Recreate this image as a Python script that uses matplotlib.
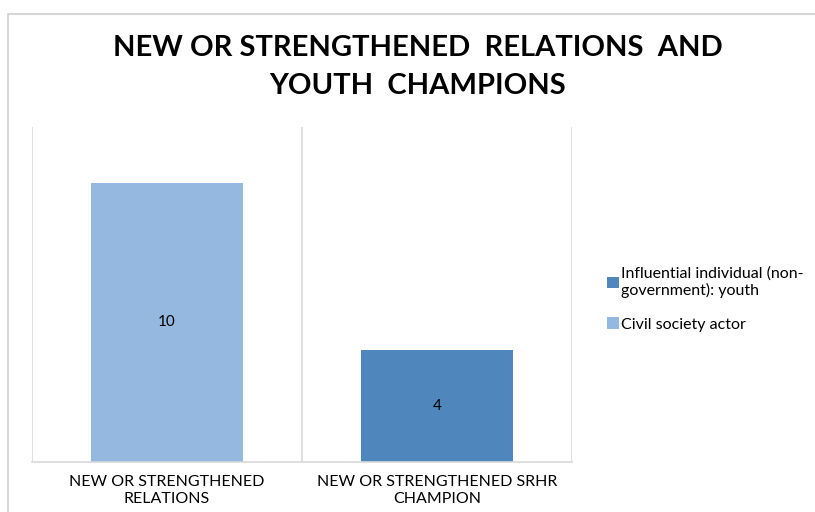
import matplotlib
matplotlib.use("Agg")
import matplotlib.pyplot as plt
from matplotlib.patches import Rectangle
import numpy as np

plt.rcParams["font.family"] = ["Lato", "DejaVu Sans"]

# chart data
categories = ["NEW OR STRENGTHENED\nRELATIONS", "NEW OR STRENGTHENED SRHR\nCHAMPION"]
civil_society = [10, 0]
influential_youth = [0, 4]
series_names = ["Civil society actor", "Influential individual (non-\ngovernment): youth"]
title = "NEW OR STRENGTHENED  RELATIONS  AND\nYOUTH  CHAMPIONS"

LIGHT = "#95b8e0"
DARK = "#4f87bd"
GRID = "#d9d9d9"

fig = plt.figure(figsize=(8.15, 5.12), dpi=100)

# outer chart frame (cut off at right and bottom like the screenshot)
fig.patches.append(Rectangle((8 / 815, -0.05), 1.0, 1 - 14 / 512 + 0.05,
                             transform=fig.transFigure, fill=False,
                             edgecolor="#d0d0d0", linewidth=1.2))

ax = fig.add_axes([32 / 815, 1 - 462 / 512, 540 / 815, 335 / 512])
x = np.arange(len(categories))
b1 = ax.bar(x, civil_society, width=0.56, color=LIGHT, label=series_names[0])
b2 = ax.bar(x, influential_youth, width=0.56, bottom=civil_society, color=DARK,
            label=series_names[1])

ax.set_xlim(-0.5, 1.5)
ax.set_ylim(0, 12)

for i, v in enumerate(civil_society):
    if v:
        ax.text(x[i], v / 2, str(v), ha="center", va="center", fontsize=11)
for i, v in enumerate(influential_youth):
    if v:
        ax.text(x[i], civil_society[i] + v / 2, str(v), ha="center", va="center", fontsize=11)

# category separators
for xv in [-0.5, 0.5, 1.5]:
    ax.axvline(xv, color=GRID, linewidth=1.2, zorder=0)
for s in ["top", "right", "left"]:
    ax.spines[s].set_visible(False)
ax.spines["bottom"].set_color(GRID)
ax.spines["bottom"].set_linewidth(1.2)
ax.set_yticks([])
ax.set_xticks(x)
ax.set_xticklabels(categories, fontsize=11.5, linespacing=1.3)
ax.tick_params(axis="x", length=0, pad=9)

fig.text(418 / 815, 1 - 67 / 512, title, ha="center", va="center",
         fontsize=21, fontweight="bold", linespacing=1.6)

handles = [b2, b1]
labels = [series_names[1], series_names[0]]
fig.legend(handles, labels, loc="center left", bbox_to_anchor=(593 / 815, 1 - 299 / 512),
           frameon=False, fontsize=11.5, handlelength=0.7, handleheight=0.7,
           handletextpad=0.15, labelspacing=1.2)

fig.savefig("out.png", dpi=100)
